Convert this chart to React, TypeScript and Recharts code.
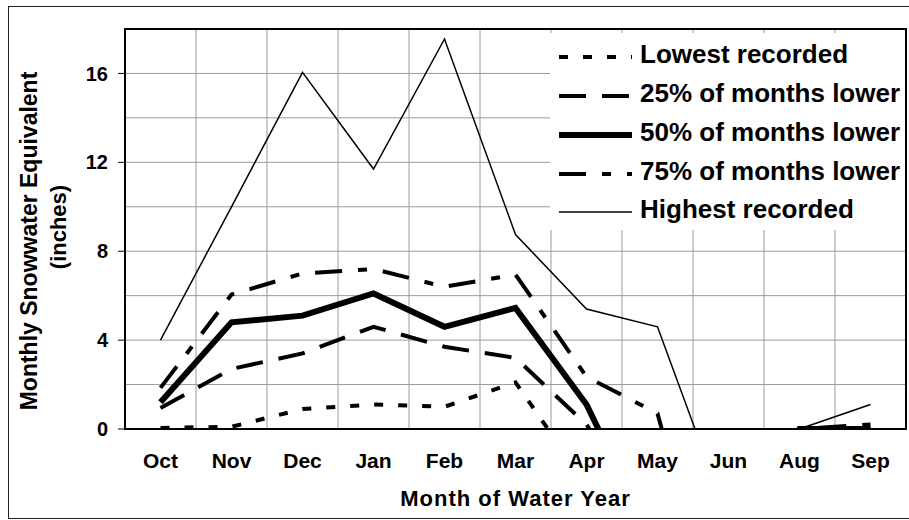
import { LineChart, Line, XAxis, YAxis, CartesianGrid, ReferenceArea, Legend } from 'recharts';

const months = ['Oct', 'Nov', 'Dec', 'Jan', 'Feb', 'Mar', 'Apr', 'May', 'Jun', 'Aug', 'Sep'];

// values below 0 run off the bottom of the plot and get clipped, as in the original
const lowest = [0.05, 0.1, 0.9, 1.1, 1.0, 2.1, -2.5, -2.5, -2.5, 0, 0];
const pct25 = [0.95, 2.7, 3.4, 4.6, 3.7, 3.2, 0.2, -4.6, -4.6, 0, 0];
const pct50 = [1.2, 4.8, 5.1, 6.1, 4.6, 5.45, 1.1, -5.5, -5.5, 0, 0];
const pct75 = [1.85, 6.05, 7.0, 7.2, 6.4, 6.95, 2.35, 0.7, -11, 0, 0.2];
const highest = [4.0, 10.0, 16.05, 11.7, 17.55, 8.75, 5.4, 4.6, -4.1, 0, 1.1];

const yTicks = [0, 4, 8, 12, 16];
const yGridTicks = [0, 2, 4, 6, 8, 10, 12, 14, 16, 18];
const xBounds = months.map((_, i) => i).concat(months.length);
const xCenters = months.map((_, i) => i + 0.5);

const data = months.map((m, i) => ({
  month: m,
  pos: i + 0.5,
  lowest: lowest[i],
  pct25: pct25[i],
  pct50: pct50[i],
  pct75: pct75[i],
  highest: highest[i],
}));

const series = [
  { key: 'lowest', name: 'Lowest recorded', width: 4, dash: '9 15' },
  { key: 'pct25', name: '25% of months lower', width: 4, dash: '27 16' },
  { key: 'pct50', name: '50% of months lower', width: 6, dash: undefined },
  { key: 'pct75', name: '75% of months lower', width: 4, dash: '27 16 9 16' },
  { key: 'highest', name: 'Highest recorded', width: 1.5, dash: undefined },
];

const FONT = '"Liberation Sans", Arial, sans-serif';

const LegendBox = () => (
  <div style={{ background: '#fff', width: 355, height: 197, paddingTop: 2, boxSizing: 'border-box', fontFamily: FONT }}>
    {series.map((s) => (
      <div key={s.key} style={{ display: 'flex', alignItems: 'center', height: 38.75 }}>
        <svg width={81} height={10} style={{ marginLeft: 9, flex: 'none', marginTop: 6 }}>
          <line x1={0} x2={73} y1={5} y2={5} stroke="#000" strokeWidth={s.width} strokeDasharray={s.dash} />
        </svg>
        <span style={{ fontSize: 26, fontWeight: 'bold', color: '#000', whiteSpace: 'nowrap', lineHeight: 1 }}>{s.name}</span>
      </div>
    ))}
  </div>
);

const YTitle = () => {
  const style = { fontFamily: FONT, fontWeight: 'bold', fill: '#000' };
  return (
    <g>
      <text x={37} y={241} textAnchor="middle" transform="rotate(-90 37 241)" style={{ ...style, fontSize: 23 }}>
        Monthly Snowwater Equivalent
      </text>
      <text x={66} y={227} textAnchor="middle" transform="rotate(-90 66 227)" style={{ ...style, fontSize: 22 }}>
        (inches)
      </text>
    </g>
  );
};

export default function App() {
  const tickStyle = { fontSize: 21, fontWeight: 'bold', fill: '#000', fontFamily: FONT };
  return (
    <div style={{ position: 'fixed', left: 0, top: 0, width: 909, height: 520, overflow: 'hidden', background: '#fff' }}>
      <div
        style={{
          position: 'absolute',
          left: 8,
          top: 6,
          width: 910,
          height: 513,
          border: '1.5px solid #222',
          boxSizing: 'border-box',
        }}
      />
      <div style={{ position: 'absolute', left: 0, top: 0 }}>
        <LineChart width={909} height={520} data={data} margin={{ top: 29, right: 3, bottom: 0, left: 0 }}>
          <XAxis
            xAxisId="bounds"
            type="number"
            domain={[0, months.length]}
            ticks={xBounds}
            tick={false}
            tickSize={6}
            height={6}
            stroke="#000"
            axisLine={{ stroke: '#000', strokeWidth: 1.5 }}
            tickLine={{ stroke: '#000' }}
          />
          <XAxis
            xAxisId="main"
            type="number"
            dataKey="pos"
            domain={[0, months.length]}
            ticks={xCenters}
            tickFormatter={(v) => months[Math.floor(v)]}
            axisLine={false}
            tickLine={false}
            tickSize={0}
            tickMargin={18}
            height={85}
            tick={tickStyle}
            label={{ value: 'Month of Water Year', position: 'insideBottom', offset: 14, style: { ...tickStyle, fontSize: 22, letterSpacing: 1 } }}
          />
          <YAxis
            yAxisId="main"
            domain={[0, 18]}
            ticks={yTicks}
            allowDataOverflow
            width={125}
            tickSize={7}
            tickMargin={10}
            tick={{ ...tickStyle, fontSize: 20 }}
            axisLine={{ stroke: '#000', strokeWidth: 1.5 }}
            tickLine={{ stroke: '#000' }}
            label={{ content: YTitle }}
          />
          <CartesianGrid
            xAxisId="main"
            yAxisId="main"
            verticalValues={xBounds}
            horizontalValues={yGridTicks}
            stroke="#9a9a9a"
            strokeWidth={1}
          />
          <ReferenceArea
            xAxisId="main"
            yAxisId="main"
            x1={0}
            x2={months.length}
            y1={0}
            y2={18}
            fill="none"
            fillOpacity={0}
            stroke="#000"
            strokeWidth={2}
          />
          {series.map((s) => (
            <Line
              key={s.key}
              xAxisId="main"
              yAxisId="main"
              type="linear"
              dataKey={s.key}
              name={s.name}
              stroke="#000"
              strokeWidth={s.width}
              strokeDasharray={s.dash}
              dot={false}
              activeDot={false}
              isAnimationActive={false}
            />
          ))}
          <Legend
            layout="vertical"
            align="center"
            verticalAlign="middle"
            content={<LegendBox />}
            wrapperStyle={{ left: 550, top: 33, width: 355, height: 197 }}
          />
        </LineChart>
      </div>
    </div>
  );
}
